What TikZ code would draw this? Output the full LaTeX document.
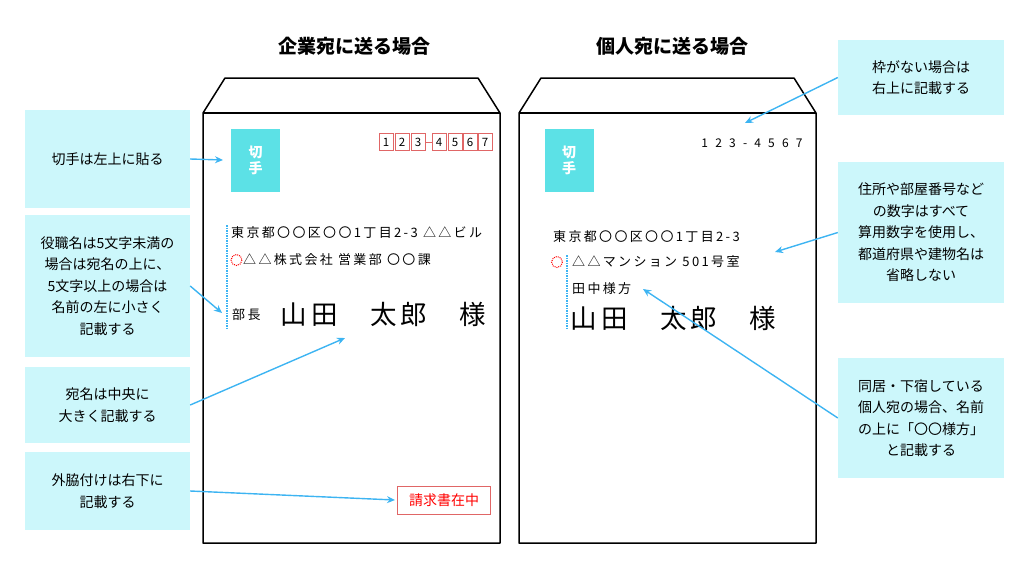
\documentclass[tikz,border=0pt]{standalone}
\usepackage{fontspec}
\setmainfont{Noto Sans CJK JP}
\newfontfamily\addrfont[LetterSpace=18]{Noto Sans CJK JP}
\newfontfamily\zipfont[LetterSpace=60]{Noto Sans CJK JP}
\usetikzlibrary{positioning,arrows.meta}
\definecolor{notecyan}{HTML}{CCF7FB}
\definecolor{stampcyan}{HTML}{5CE1E6}
\definecolor{arrowblue}{HTML}{3DB4F2}
\definecolor{zipred}{HTML}{E06666}
\tikzset{
  note/.style={fill=notecyan, align=center, font=\fontsize{14}{21.5}\selectfont, inner sep=0pt},
  stamp/.style={fill=stampcyan, text=white, align=center, font=\bfseries\fontsize{14}{16}\selectfont, minimum width=49pt, minimum height=63pt},
  pointer/.style={-{Stealth[length=8pt,width=7pt]}, arrowblue, line width=1.4pt},
  envline/.style={line width=1.5pt, line join=round},
  addr/.style={anchor=west, font=\addrfont\fontsize{13}{15}\selectfont, inner sep=0pt},
  bigname/.style={anchor=west, font=\fontsize{26.5}{29}\selectfont, inner sep=0pt},
  zipbox/.style={draw=zipred, minimum width=13.5pt, minimum height=17pt, inner sep=0pt, font=\fontsize{11.5}{12}\selectfont}
}
\begin{document}
\begin{tikzpicture}[x=1pt,y=-1pt]
  \useasboundingbox (0,0) rectangle (1024,576);

  % 封筒
  \draw[envline] (203,543) -- (203,113) -- (225,78) -- (478,78) -- (500,113) -- (500,543) -- cycle;
  \draw[envline] (203,113) -- (500,113);
  \draw[envline] (519,543) -- (519,113) -- (541,78) -- (794,78) -- (816,113) -- (816,543) -- cycle;
  \draw[envline] (519,113) -- (816,113);

  % 見出し
  \node[font=\bfseries\fontsize{19}{22}\selectfont] (titleL) at (354,46) {企業宛に送る場合};
  \node[font=\bfseries\fontsize{19}{22}\selectfont] (titleR) at (672,46) {個人宛に送る場合};

  % 切手
  \node[stamp] (stampL) at (255.5,160.5) {切\\手};
  \node[stamp] (stampR) at (569,160.5) {切\\手};

  % 郵便番号
  \foreach \k/\x in {1/386,2/402,3/418,4/439,5/455,6/470,7/485}
    \node[zipbox] (zip\k) at (\x,142) {\k};
  \draw[zipred] (zip3.east) -- (zip4.west);
  \node[font=\zipfont\fontsize{12}{14}\selectfont] (zipR) at (752,143) {123-4567};

  % 企業宛
  \node[addr] (addrL1) at (231,233) {東京都〇〇区〇〇1丁目2-3\ △△ビル};
  \node[addr] (addrL2) at (243,260) {△△株式会社\ 営業部\ 〇〇課};
  \draw[red, densely dotted, line width=1pt] (236.5,260) circle (5.5);
  \node[addr] (rankL) at (232,315) {部長};
  \node[bigname] (nameL) at (280,314) {山\,田\quad\ 太\,郎\quad\ 様};
  \draw[arrowblue, densely dotted, line width=1.5pt] (227,225) -- (227,328);
  \node[draw=zipred, text=red, font=\fontsize{14}{16}\selectfont, minimum width=93pt, minimum height=28pt] (sealL) at (444,500) {請求書在中};

  % 個人宛
  \node[addr] (addrR1) at (553,237) {東京都〇〇区〇〇1丁目2-3};
  \node[addr] (addrR2) at (572,262) {△△マンション\ 501号室};
  \draw[red, densely dotted, line width=1pt] (557,262) circle (5.5);
  \node[addr] (careR) at (572,289) {田中様方};
  \node[bigname] (nameR) at (570,318) {山\,田\quad\ 太\,郎\quad\ 様};
  \draw[arrowblue, densely dotted, line width=1.5pt] (567,255) -- (567,328);

  % 説明
  \node[note, minimum width=165pt, minimum height=98pt] (noteStamp) at (107.5,159) {切手は左上に貼る};
  \node[note, minimum width=165pt, minimum height=142pt] (noteRank) at (107.5,286) {役職名は5文字未満の\\場合は宛名の上に、\\5文字以上の場合は\\名前の左に小さく\\記載する};
  \node[note, minimum width=165pt, minimum height=76pt] (noteName) at (107.5,405) {宛名は中央に\\大きく記載する};
  \node[note, minimum width=165pt, minimum height=78pt] (noteSeal) at (107.5,491) {外脇付けは右下に\\記載する};
  \node[note, minimum width=166pt, minimum height=75pt] (noteZip) at (921,77.5) {枠がない場合は\\右上に記載する};
  \node[note, minimum width=166pt, minimum height=141pt] (noteAddr) at (921,232.5) {住所や部屋番号など\\の数字はすべて\\算用数字を使用し、\\都道府県や建物名は\\省略しない};
  \node[note, minimum width=166pt, minimum height=120pt] (noteCare) at (921,418) {同居・下宿している\\個人宛の場合、名前\\の上に「〇〇様方」\\と記載する};

  % 矢印
  \coordinate (tipStamp) at (223,160);
  \coordinate (tipRank) at (222,313);
  \coordinate (tipName) at (345,338);
  \coordinate (tipSeal) at (395,500);
  \coordinate (tipZip) at (745,123);
  \coordinate (tipAddr) at (775,252);
  \coordinate (tipCare) at (643,289);
  \draw[pointer] (noteStamp.east) -- (tipStamp);
  \draw[pointer] (noteRank.east) -- (tipRank);
  \draw[pointer] (noteName.east) -- (tipName);
  \draw[pointer] (noteSeal.east) -- (tipSeal);
  \draw[pointer] (noteZip.west) -- (tipZip);
  \draw[pointer] (noteAddr.west) -- (tipAddr);
  \draw[pointer] (noteCare.west) -- (tipCare);
\end{tikzpicture}
\end{document}
